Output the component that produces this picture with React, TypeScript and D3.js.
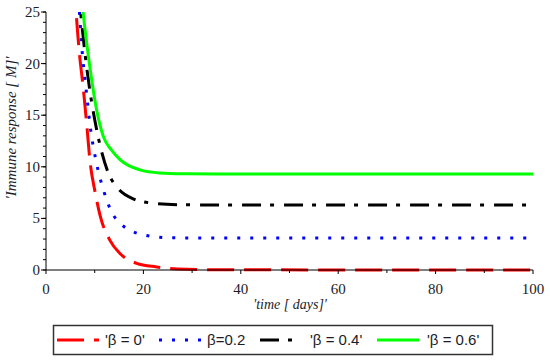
import React from "react";
import * as d3 from "d3";

const xTicks = [0, 20, 40, 60, 80, 100];
const yTicks = [0, 5, 10, 15, 20, 25];
const xMinor = [10, 30, 50, 70, 90];
const yMinor = d3.range(0, 26);

const tRed = [5.8, 6.2, 6.8, 7.7, 8.4, 9.0, 10.1, 11.1, 13.1, 15.2, 18.6, 22.7, 27, 35, 100];
const vRed = [28, 24.9, 21.3, 17.4, 13.9, 10.7, 7.5, 5.3, 2.9, 1.6, 0.65, 0.3, 0.1, 0.02, 0];

const tBlue = [6.3, 6.8, 7.3, 8.4, 9.0, 10.4, 11.8, 13.5, 15.3, 17.4, 20, 22.7, 26, 32, 100];
const vBlue = [27.5, 25.4, 21.9, 16.8, 14.2, 10.3, 7.75, 5.6, 4.5, 3.8, 3.4, 3.2, 3.12, 3.1, 3.1];

const tBlack = [6.6, 7.0, 8.0, 9.0, 10.4, 11.4, 12.8, 14.8, 17.9, 22.4, 27, 35, 100];
const vBlack = [27.5, 25.5, 21, 17.4, 13.6, 11.5, 9.4, 7.9, 6.9, 6.45, 6.33, 6.3, 6.3];

const tGreen = [7.1, 7.5, 9.0, 10.4, 11.8, 13.5, 15.2, 19.3, 23.4, 28, 35, 100];
const vGreen = [27.5, 25.5, 19.7, 15.5, 12.9, 11.6, 10.7, 9.7, 9.4, 9.32, 9.3, 9.3];

const seriesNames = ["'β = 0'", "β=0.2", "'β = 0.4'", "'β = 0.6'"];
const seriesColors = ["#ff0000", "#0000ff", "#000000", "#00ff00"];
const seriesDash = ["27,10", "3,10", "19,9,4,10", "none"];
const seriesT = [tRed, tBlue, tBlack, tGreen];
const seriesV = [vRed, vBlue, vBlack, vGreen];

const legendSampleX = [57, 159, 260, 377];
const legendTextX = [105, 207, 310, 427];

export default function App() {
  const W = 550, H = 364;
  const x = d3.scaleLinear().domain([0, 100]).range([46, 533]);
  const y = d3.scaleLinear().domain([0, 25]).range([270, 12]);
  const line = d3
    .line<[number, number]>()
    .x((d) => x(d[0]))
    .y((d) => y(d[1]))
    .curve(d3.curveMonotoneX);

  const serif = "serif";
  const sans = "Arial, sans-serif";
  const textCol = "#1c1c28";

  return (
    <svg
      width={W}
      height={H}
      fontFamily={serif}
      style={{ position: "absolute", left: 0, top: 0, display: "block", background: "#fff" }}
    >
      <defs>
        <clipPath id="plotclip">
          <rect x={x(0)} y={y(25)} width={x(100) - x(0) + 2} height={y(0) - y(25) + 2} />
        </clipPath>
      </defs>
      <g clipPath="url(#plotclip)">
        {seriesT.map((ts, i) => {
          const pts = ts.map((t, j) => [t, seriesV[i][j]] as [number, number]);
          return (
            <path
              key={i}
              d={line(pts) || ""}
              fill="none"
              stroke={seriesColors[i]}
              strokeWidth={3}
              strokeDasharray={seriesDash[i]}
            />
          );
        })}
      </g>
      <line x1={x(0)} x2={x(100)} y1={y(0)} y2={y(0)} stroke="#000" strokeWidth={1} />
      <line x1={x(0)} x2={x(0)} y1={y(0)} y2={y(25)} stroke="#000" strokeWidth={1} />
      {xTicks.map((t) => (
        <g key={"xt" + t}>
          <line x1={x(t)} x2={x(t)} y1={y(0)} y2={y(0) + 4} stroke="#000" />
          <text x={x(t)} y={294} textAnchor="middle" fontSize={15} fill={textCol}>
            {t}
          </text>
        </g>
      ))}
      {xMinor.map((t) => (
        <line key={"xm" + t} x1={x(t)} x2={x(t)} y1={y(0)} y2={y(0) + 3} stroke="#000" />
      ))}
      {yMinor.map((v) => (
        <line key={"ym" + v} x1={x(0) - 3} x2={x(0)} y1={y(v)} y2={y(v)} stroke="#000" />
      ))}
      {yTicks.map((v) => (
        <g key={"yt" + v}>
          <line x1={x(0) - 5} x2={x(0)} y1={y(v)} y2={y(v)} stroke="#000" />
          <text x={40} y={y(v) + 5} textAnchor="end" fontSize={15} fill={textCol}>
            {v}
          </text>
        </g>
      ))}
      <text x={290} y={309} textAnchor="middle" fontSize={14} fontStyle="italic" fill={textCol}>
        'time [ days]'
      </text>
      <text
        transform={`translate(16, 128) rotate(-90)`}
        textAnchor="middle"
        fontSize={15}
        fontStyle="italic"
        fill={textCol}
      >
        'Immune response [ M]'
      </text>
      <rect x={53.5} y={325.5} width={439} height={29} fill="#fff" stroke="#333" strokeWidth={1.5} />
      {seriesNames.map((n, i) => (
        <g key={"lg" + i}>
          <line
            x1={legendSampleX[i]}
            x2={legendSampleX[i] + 42}
            y1={340}
            y2={340}
            stroke={seriesColors[i]}
            strokeWidth={3}
            strokeDasharray={seriesDash[i]}
          />
          <text x={legendTextX[i]} y={345} fontFamily={sans} fontSize={15} fill={textCol}>
            {n}
          </text>
        </g>
      ))}
    </svg>
  );
}
